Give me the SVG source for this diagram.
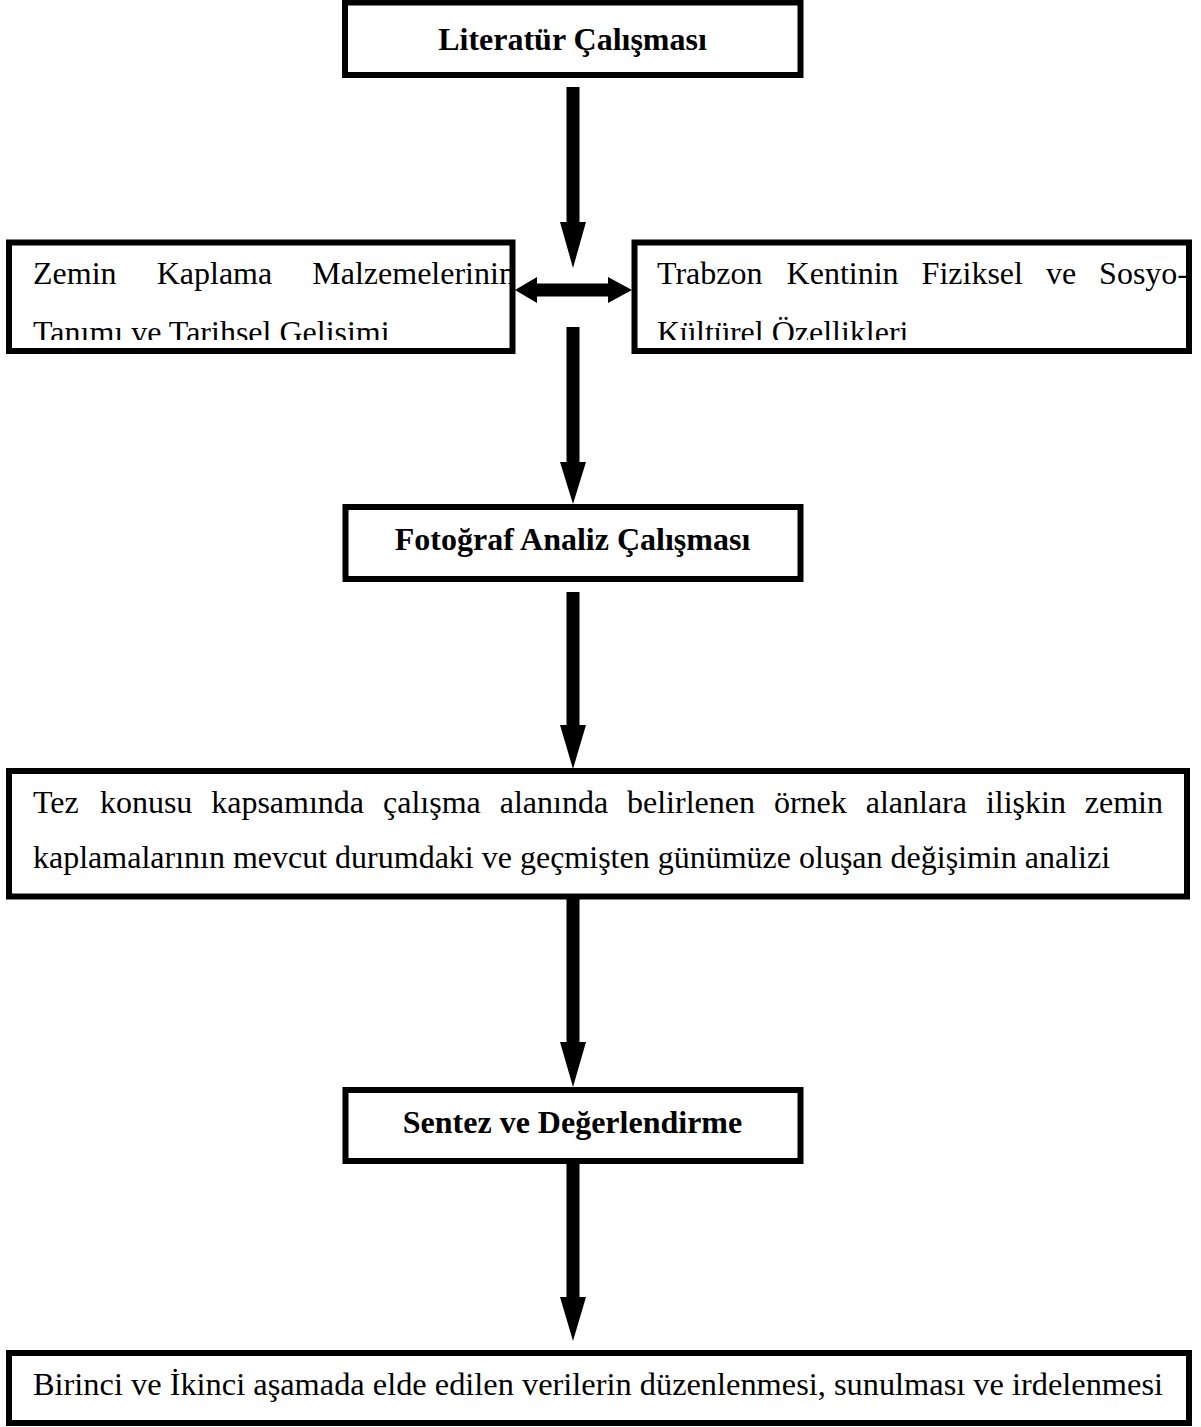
<svg xmlns="http://www.w3.org/2000/svg" width="1201" height="1427" viewBox="0 0 1201 1427">
<style>
.box{fill:#fff;stroke:#000;stroke-width:6}
.t{font-family:"Liberation Serif","Times New Roman",serif;font-size:32px;fill:#000}
.b{font-weight:bold;text-anchor:middle}
.arr{fill:#000;stroke:none}
</style>
<defs>
<clipPath id="clipL"><rect x="12" y="245" width="520" height="95"/></clipPath>
<clipPath id="clipR"><rect x="637" y="245" width="560" height="95"/></clipPath>
</defs>
<rect width="1201" height="1427" fill="#fff"/>
<g id="connectors">
<polygon class="arr" points="566.5,87 579.5,87 579.5,222 586,222 573,268 560,222 566.5,222"/>
<polygon class="arr" points="515,290 537,277 537,283.5 608,283.5 608,277 632,290 608,303 608,296.5 537,296.5 537,303"/>
<polygon class="arr" points="566.5,327 579.5,327 579.5,462 586,462 573,504 560,462 566.5,462"/>
<polygon class="arr" points="566.5,592 579.5,592 579.5,725 586,725 573,769 560,725 566.5,725"/>
<polygon class="arr" points="566.5,899 579.5,899 579.5,1042 586,1042 573,1087 560,1042 566.5,1042"/>
<polygon class="arr" points="566.5,1163 579.5,1163 579.5,1297 586,1297 573,1341 560,1297 566.5,1297"/>
</g>
<g id="n1">
<rect class="box" x="345" y="2.5" width="455.5" height="72.5"/>
<text class="t b" x="572.5" y="50">Literatür Çalışması</text>
</g>
<g id="n2">
<rect class="box" x="9" y="242.5" width="503.5" height="108.5"/>
<g clip-path="url(#clipL)">
<text class="t" y="284"><tspan x="33">Zemin</tspan><tspan x="156.7">Kaplama</tspan><tspan x="312.3">Malzemelerinin</tspan></text>
<text class="t" x="33" y="343">Tanımı ve Tarihsel Gelisimi</text>
</g>
</g>
<g id="n3">
<rect class="box" x="634.5" y="242.5" width="554.5" height="108.5"/>
<g clip-path="url(#clipR)">
<text class="t" y="284"><tspan x="657">Trabzon</tspan><tspan x="786.6">Kentinin</tspan><tspan x="921.6">Fiziksel</tspan><tspan x="1045.9">ve</tspan><tspan x="1099.1">Sosyo-</tspan></text>
<text class="t" x="657" y="343">Kültürel Özellikleri</text>
</g>
</g>
<g id="n4">
<rect class="box" x="345.5" y="507" width="455" height="72"/>
<text class="t b" x="572.5" y="550">Fotoğraf Analiz Çalışması</text>
</g>
<g id="n5">
<rect class="box" x="9" y="771" width="1178" height="125.5"/>
<text class="t" y="813"><tspan x="33">Tez</tspan><tspan x="99.9">konusu</tspan><tspan x="211.2">kapsamında</tspan><tspan x="383">çalışma</tspan><tspan x="499.7">alanında</tspan><tspan x="627">belirlenen</tspan><tspan x="773.9">örnek</tspan><tspan x="865.7">alanlara</tspan><tspan x="985.9">ilişkin</tspan><tspan x="1084.8">zemin</tspan></text>
<text class="t" x="33" y="868">kaplamalarının mevcut durumdaki ve geçmişten günümüze oluşan değişimin analizi</text>
</g>
<g id="n6">
<rect class="box" x="345.5" y="1090" width="455" height="71"/>
<text class="t b" x="572.5" y="1133">Sentez ve Değerlendirme</text>
</g>
<g id="n7">
<rect class="box" x="9" y="1353" width="1180" height="70"/>
<text class="t" x="33" y="1395" textLength="1130" lengthAdjust="spacingAndGlyphs">Birinci ve İkinci aşamada elde edilen verilerin düzenlenmesi, sunulması ve irdelenmesi</text>
</g>
</svg>
